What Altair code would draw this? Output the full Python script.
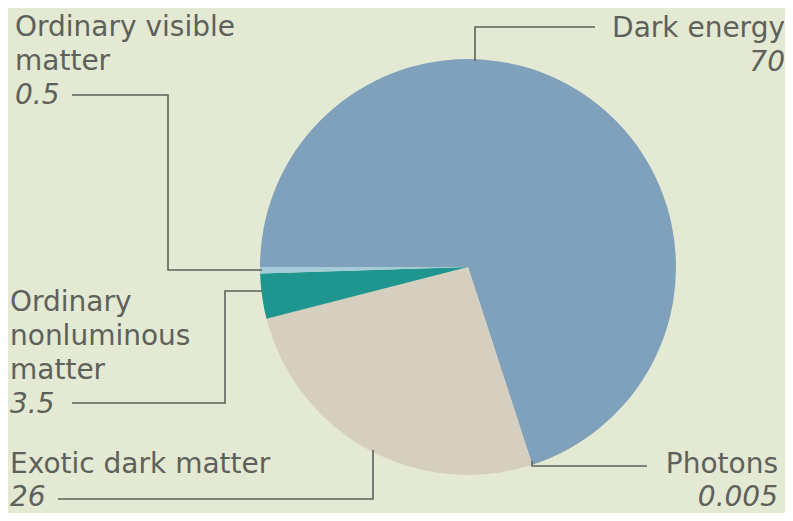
import math
import altair as alt
import pandas as pd

# ---- data ----
categories = ["Dark energy", "Photons", "Exotic dark matter",
              "Ordinary nonluminous matter", "Ordinary visible matter"]
values = [70, 0.005, 26, 3.5, 0.5]
slice_colors = ["#7fa1bc", "#7fa1bc", "#d6cfc0", "#1f958f", "#a6cbd8"]

# label text lines
label_texts = ["Ordinary visible", "matter", "0.5",
               "Ordinary", "nonluminous", "matter", "3.5",
               "Exotic dark matter", "26",
               "Dark energy", "70",
               "Photons", "0.005"]

# ---- layout (page pixel coordinates) ----
label_x = [15, 15, 15, 10, 10, 10, 10, 10, 10, 785, 785, 778, 778]
label_y = [36, 70, 104, 311, 345, 379, 413, 473, 506, 37, 71, 473, 506]
label_align = ["left"] * 9 + ["right"] * 4
label_italic = [False, False, True, False, False, False, True, False, True,
                False, True, False, True]

leaders = {
    "visible": [(72, 95), (168, 95), (168, 270), (262, 270)],
    "nonlum": [(72, 403), (225, 403), (225, 291), (262, 291)],
    "exotic": [(58, 499), (373, 499), (373, 450)],
    "photons": [(647, 466), (532, 466), (532, 461)],
    "dark": [(595, 27), (475, 27), (475, 61)],
}

pie_cx, pie_cy, pie_r = 468, 267, 208
start = math.radians(270)

W, H = 777, 505
xs = alt.Scale(domain=[8, 8 + W], nice=False, zero=False)
ys = alt.Scale(domain=[8, 8 + H], nice=False, zero=False, reverse=True)

FONT = "DejaVu Sans"
INK = "#5e615b"

pie_df = pd.DataFrame({"category": categories, "value": values,
                       "ord": list(range(len(values)))})

pie = alt.Chart(pie_df).mark_arc(radius=pie_r, stroke=None).encode(
    theta=alt.Theta("value:Q", stack=True,
                    scale=alt.Scale(range=[start, start + 2 * math.pi])),
    order=alt.Order("ord:Q"),
    color=alt.Color("category:N",
                    scale=alt.Scale(domain=categories, range=slice_colors),
                    legend=None),
    x=alt.datum(pie_cx, type="quantitative", scale=xs, axis=None),
    y=alt.datum(pie_cy, type="quantitative", scale=ys, axis=None),
)

rows = []
for name, pts in leaders.items():
    for i, (px, py) in enumerate(pts):
        rows.append({"leader": name, "i": i, "px": px, "py": py})
lead_df = pd.DataFrame(rows)

lines = alt.Chart(lead_df).mark_line(color=INK, strokeWidth=1.6).encode(
    x=alt.X("px:Q", scale=xs, axis=None),
    y=alt.Y("py:Q", scale=ys, axis=None),
    detail="leader:N",
    order="i:Q",
)

lab_df = pd.DataFrame({"text": label_texts, "px": label_x, "py": label_y,
                       "align": label_align, "italic": label_italic})

text_layers = []
for al in ["left", "right"]:
    for it in [False, True]:
        sub = lab_df[(lab_df["align"] == al) & (lab_df["italic"] == it)]
        t = alt.Chart(sub).mark_text(
            align=al, baseline="alphabetic", font=FONT, fontSize=28,
            fontStyle="italic" if it else "normal", color=INK,
        ).encode(
            x=alt.X("px:Q", scale=xs, axis=None),
            y=alt.Y("py:Q", scale=ys, axis=None),
            text="text:N",
        )
        text_layers.append(t)

chart = alt.layer(pie, lines, *text_layers).properties(
    width=W, height=H, padding=0,
    autosize=alt.AutoSizeParams(type="none"),
).configure(background="#e3e9d2").configure_view(stroke=None)

chart.save("out.html", embed_options={"renderer": "svg", "actions": False})
